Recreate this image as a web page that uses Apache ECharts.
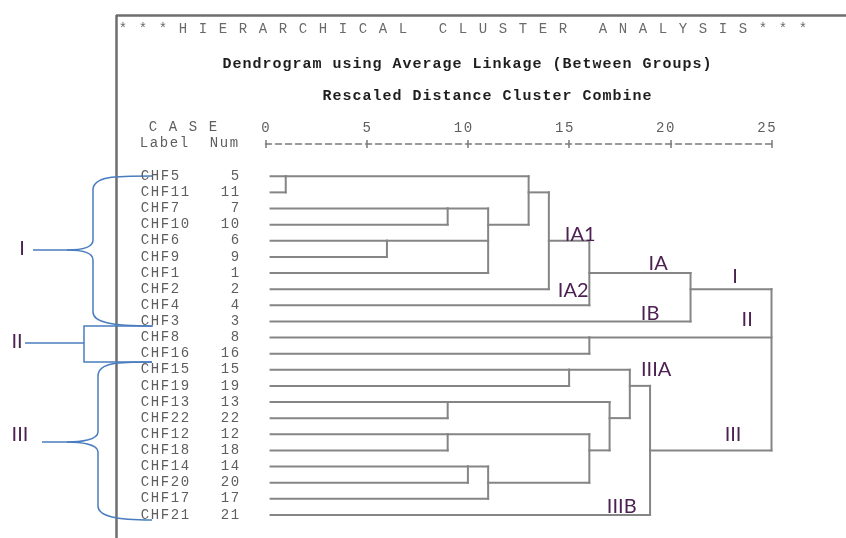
<!DOCTYPE html>
<html>
<head>
<meta charset="utf-8">
<title>Hierarchical Cluster Analysis</title>
<script src="https://cdn.jsdelivr.net/npm/echarts@6/dist/echarts.min.js"></script>
<style>
  html, body { margin: 0; padding: 0; background: #fff; }
  #dendro { width: 846px; height: 538px; }
</style>
</head>
<body>
<div id="dendro"></div>
<script>
// cases, top to bottom as they come out of the clustering
var caseLabels = ['CHF5', 'CHF11', 'CHF7', 'CHF10', 'CHF6', 'CHF9', 'CHF1', 'CHF2', 'CHF4', 'CHF3', 'CHF8',
  'CHF16', 'CHF15', 'CHF19', 'CHF13', 'CHF22', 'CHF12', 'CHF18', 'CHF14', 'CHF20', 'CHF17', 'CHF21'];
var caseNums = [5, 11, 7, 10, 6, 9, 1, 2, 4, 3, 8, 16, 15, 19, 13, 22, 12, 18, 14, 20, 17, 21];

// merges: rescaled distance, what is joined (rN = case row, mN = earlier merge), row the result leaves on
var mergeDist = [1, 9, 6, 11, 13, 14, 16, 21, 16, 15, 9, 9, 10, 11, 16, 17, 18, 19, 25];
var mergeKids = [
  ['r0', 'r1'], ['r2', 'r3'], ['r4', 'r5'], ['m1', 'm2', 'r6'], ['m0', 'm3'], ['m4', 'r7'],
  ['m5', 'r8'], ['m6', 'r9'], ['r10', 'r11'], ['r12', 'r13'], ['r14', 'r15'], ['r16', 'r17'],
  ['r18', 'r19'], ['m12', 'r20'], ['m11', 'm13'], ['m10', 'm14'], ['m9', 'm15'], ['m16', 'r21'],
  ['m7', 'm8', 'm17']
];
var mergeRow = [0, 2, 4, 3, 1, 4, 6, 7, 10, 12, 14, 16, 18, 19, 17, 15, 13, 17, null];

// hand written cluster names on the right
var annoText = ['IA1', 'IA2', 'IA', 'IB', 'I', 'II', 'IIIA', 'III', 'IIIB'];
var annoDist = [15.55, 15.2, 19.4, 19.0, 23.2, 23.8, 19.3, 23.1, 17.6];
var annoRow = [3.6, 7.1, 5.4, 8.5, 6.2, 8.9, 12.0, 16.0, 20.5];

var mono = '"Liberation Mono", "DejaVu Sans Mono", monospace';
var hand = 'Lato, "Open Sans", sans-serif';
var leafStart = 0.25;
var blue = '#4a7dbf';
var plum = '#4d2152';
var cell = 10; // the listing is a fixed 10px character grid

// put every character in its own fixed-width cell, like the SPSS text listing
function spaced(str, tag) {
  return String(str).split('').map(function (ch) {
    return '{' + tag + '|' + ch + '}';
  }).join('');
}

function childPos(key) {
  var i = +key.slice(1);
  if (key[0] === 'r') return [leafStart, i];
  return [mergeDist[i], mergeRow[i]];
}

var segs = [];
mergeKids.forEach(function (kids, i) {
  var d = mergeDist[i], ys = [];
  kids.forEach(function (k) {
    var p = childPos(k);
    segs.push([p[0], p[1], d, p[1]]);
    ys.push(p[1]);
  });
  segs.push([d, Math.min.apply(null, ys), d, Math.max.apply(null, ys)]);
});

var annoData = annoText.map(function (t, i) {
  return { name: t, value: [annoDist[i], annoRow[i]] };
});

// curly brace drawn from a top end, spine x, tip and bottom end
function brace(top, bottom, spineX, tip, labelX) {
  var st = { stroke: blue, lineWidth: 1.5, fill: null };
  var ty = tip[1];
  return [
    { type: 'bezierCurve', shape: { x1: top[0], y1: top[1], cpx1: spineX + 22, cpy1: top[1], cpx2: spineX, cpy2: top[1], x2: spineX, y2: top[1] + 14 }, style: st },
    { type: 'line', shape: { x1: spineX, y1: top[1] + 14, x2: spineX, y2: ty - 10 }, style: st },
    { type: 'bezierCurve', shape: { x1: spineX, y1: ty - 10, cpx1: spineX, cpy1: ty - 2, cpx2: tip[0] + 13, cpy2: ty, x2: tip[0], y2: ty }, style: st },
    { type: 'bezierCurve', shape: { x1: tip[0], y1: ty, cpx1: tip[0] + 13, cpy1: ty, cpx2: spineX, cpy2: ty + 2, x2: spineX, y2: ty + 10 }, style: st },
    { type: 'line', shape: { x1: spineX, y1: ty + 10, x2: spineX, y2: bottom[1] - 14 }, style: st },
    { type: 'bezierCurve', shape: { x1: spineX, y1: bottom[1] - 14, cpx1: spineX, cpy1: bottom[1] - 4, cpx2: spineX + 17, cpy2: bottom[1], x2: bottom[0], y2: bottom[1] }, style: st },
    { type: 'line', shape: { x1: labelX, y1: ty, x2: tip[0], y2: ty }, style: st }
  ];
}

function listing(x, y, str, color, bold) {
  return {
    type: 'text', x: x, y: y,
    style: {
      text: spaced(str, 'c'), verticalAlign: 'middle',
      rich: { c: { width: cell, align: 'center', fill: color, fontFamily: mono, fontSize: bold ? 15 : 14, fontWeight: bold ? 'bold' : 'normal' } }
    }
  };
}

var graphics = [
  // frame of the output window
  { type: 'line', shape: { x1: 116.5, y1: 15, x2: 116.5, y2: 538 }, style: { stroke: '#6e6e6e', lineWidth: 2.5 } },
  { type: 'line', shape: { x1: 116, y1: 15.5, x2: 846, y2: 15.5 }, style: { stroke: '#6e6e6e', lineWidth: 2.5 } },
  // headings
  listing(118, 29, '* * * H I E R A R C H I C A L   C L U S T E R   A N A L Y S I S * * *', '#6a6a6a', false),
  listing(222, 64, 'Dendrogram using Average Linkage (Between Groups)', '#1e1e1e', true),
  listing(322, 96, 'Rescaled Distance Cluster Combine', '#1e1e1e', true),
  listing(148, 127, 'C A S E', '#5e5e5e', false),
  listing(139, 143, 'Label  Num', '#5e5e5e', false),
  // group II bracket
  { type: 'polyline', shape: { points: [[152, 326], [84, 326], [84, 362], [152, 362]] }, style: { stroke: blue, lineWidth: 1.5, fill: null } },
  { type: 'line', shape: { x1: 25, y1: 343, x2: 84, y2: 343 }, style: { stroke: blue, lineWidth: 1.5 } },
  { type: 'text', x: 22, y: 249, style: { text: 'I', font: '20px ' + hand, fill: plum, align: 'center', verticalAlign: 'middle' } },
  { type: 'text', x: 17, y: 342, style: { text: 'II', font: '20px ' + hand, fill: plum, align: 'center', verticalAlign: 'middle' } },
  { type: 'text', x: 20, y: 435, style: { text: 'III', font: '20px ' + hand, fill: plum, align: 'center', verticalAlign: 'middle' } }
].concat(
  brace([153, 176], [153, 326], 93, [67, 250], 33),
  brace([152, 362], [152, 520], 98, [67, 442], 42)
);

var cellStyle = { width: cell, align: 'center', color: '#5e5e5e', fontFamily: mono, fontSize: 14 };

var chart = echarts.init(document.getElementById('dendro'));
var option = {
  animation: false,
  backgroundColor: '#fff',
  grid: { left: 265.5, top: 144, width: 506, height: 387, outerBoundsMode: 'none' },
  xAxis: [{
    type: 'value', position: 'top', min: 0, max: 25, interval: 5,
    axisLine: { show: true, onZero: false, lineStyle: { color: '#7a7a7a', width: 1.5, type: [6, 4] } },
    axisTick: { show: true, length: 4, lineStyle: { color: '#7a7a7a', width: 1.5 } },
    axisLabel: {
      margin: 9,
      // last digit sits on the tick, as in the listing
      formatter: function (v) {
        var s = String(v);
        return spaced(s, 'c') + (s.length > 1 ? '{p| }' : '');
      },
      rich: { c: cellStyle, p: { width: cell } }
    },
    splitLine: { show: false }
  }, {
    type: 'value', position: 'top', min: 0, max: 25, interval: 5,
    axisLine: { show: false, onZero: false },
    axisTick: { show: true, inside: true, length: 4, lineStyle: { color: '#7a7a7a', width: 1.5 } },
    axisLabel: { show: false },
    splitLine: { show: false }
  }],
  yAxis: {
    type: 'value', inverse: true, min: -2, max: 22, interval: 1,
    axisLine: { show: false }, axisTick: { show: false }, splitLine: { show: false },
    axisLabel: {
      margin: 25.5,
      formatter: function (v) {
        if (v < 0 || v > 21) return '';
        var lab = caseLabels[v], num = String(caseNums[v]);
        var gap = 10 - lab.length - num.length;
        return spaced(lab, 'c') + new Array(gap + 1).join('{c| }') + spaced(num, 'c');
      },
      rich: { c: cellStyle }
    }
  },
  series: [{
    type: 'custom',
    clip: false,
    data: segs,
    encode: { x: [0, 2], y: [1, 3] },
    renderItem: function (params, api) {
      var a = api.coord([api.value(0), api.value(1)]);
      var b = api.coord([api.value(2), api.value(3)]);
      return {
        type: 'line',
        shape: { x1: a[0], y1: a[1], x2: b[0], y2: b[1] },
        style: { stroke: '#858585', lineWidth: 2, lineCap: 'square' }
      };
    }
  }, {
    type: 'scatter',
    symbolSize: 0,
    itemStyle: { opacity: 1 },
    data: annoData,
    label: {
      show: true, position: 'inside', formatter: '{b}', opacity: 1,
      color: plum, fontFamily: hand, fontSize: 20
    }
  }],
  graphic: graphics
};
chart.setOption(option);
</script>
</body>
</html>
